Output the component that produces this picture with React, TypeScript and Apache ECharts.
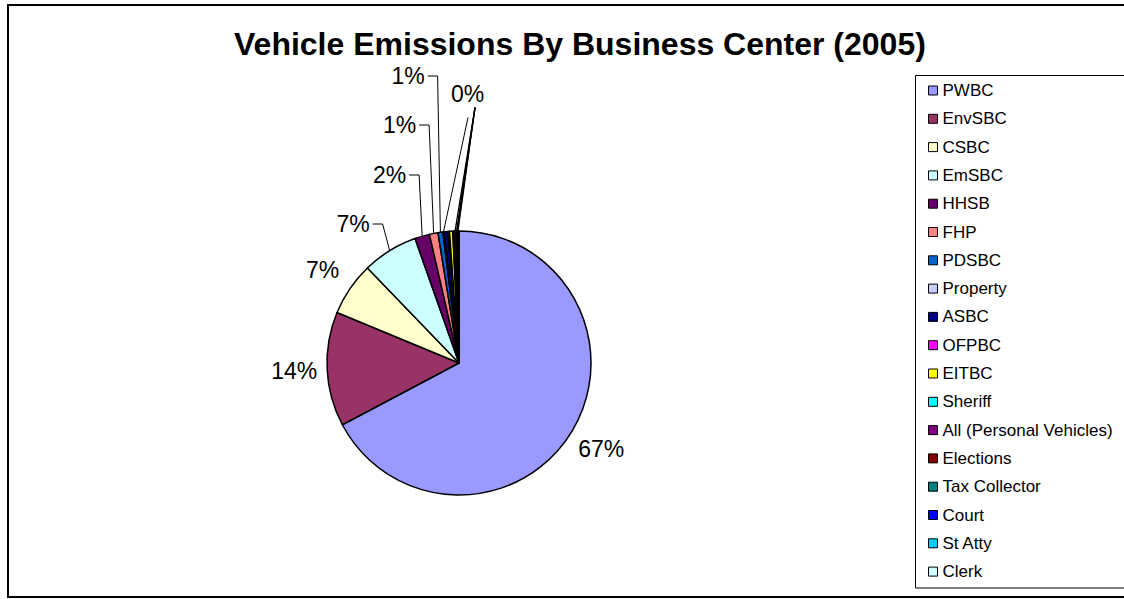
import React, { useEffect, useRef } from "react";
import * as echarts from "echarts";

const TITLE = "Vehicle Emissions By Business Center (2005)";
const CATEGORIES = [
  "PWBC", "EnvSBC", "CSBC", "EmSBC", "HHSB", "FHP", "PDSBC", "Property", "ASBC",
  "OFPBC", "EITBC", "Sheriff", "All (Personal Vehicles)", "Elections", "Tax Collector",
  "Court", "St Atty", "Clerk",
];
const SHARES = [
  67.25, 14.0, 6.55, 6.8, 1.8, 1.05, 0.6, 0.15, 0.45,
  0.2, 0.4, 0.15, 0.25, 0.1, 0.1,
  0.05, 0.05, 0.05,
];
const COLORS = [
  "#9999FF", "#993366", "#FFFFCC", "#CCFFFF", "#660066", "#FF8080", "#0066CC", "#CCCCFF", "#000080",
  "#FF00FF", "#FFFF00", "#00FFFF", "#800080", "#800000", "#008080",
  "#0000FF", "#00CCFF", "#CCFFFF",
];

// layout constants (not data)
const FONT = '"Liberation Sans", Arial, sans-serif';
const W = 1124;
const H = 599;
const CX = 459;
const CY = 363;
const R = 132;
const RADIAL_LABEL_R: Record<number, number> = { 0: 166, 1: 165, 2: 165 };
const LABEL_ANCHORS: Record<number, [number, number]> = {
  3: [353, 224],
  4: [389.5, 175],
  5: [399.5, 125],
  6: [408, 76],
};
const ZERO_ANCHOR: [number, number] = [467.5, 94];
const ELBOW_IDX = [3, 4, 5, 6];
const ZERO_THIN_IDX = [7];
const ZERO_THICK_IDX = [12, 13, 14, 15];
const ZERO_TEXT_IDX = 12;

function midAngle(i: number): number {
  const total = SHARES.reduce((a, b) => a + b, 0);
  let cum = 0;
  for (let k = 0; k < i; k++) cum += SHARES[k];
  return ((cum + SHARES[i] / 2) / total) * Math.PI * 2;
}
function edgePoint(i: number): [number, number] {
  const t = midAngle(i);
  return [CX + R * Math.sin(t), CY - R * Math.cos(t)];
}

export default function App() {
  const ref = useRef<HTMLDivElement>(null);
  useEffect(() => {
    if (!ref.current) return;
    document.body.style.margin = "0";
    document.body.style.overflow = "hidden";
    document.documentElement.style.overflow = "hidden";
    const chart = echarts.init(ref.current, undefined, { renderer: "svg", width: W, height: H });
    const zeroIdx = [...ZERO_THIN_IDX, ...ZERO_THICK_IDX];
    const data = CATEGORIES.map((name, i) => {
      const hasLabel = i <= 6 || zeroIdx.includes(i);
      const hasLine = ELBOW_IDX.includes(i) || zeroIdx.includes(i);
      return {
        name,
        value: SHARES[i],
        itemStyle: { color: COLORS[i] },
        label: { show: hasLabel },
        labelLine: {
          show: hasLine,
          lineStyle: { color: "#000", width: ZERO_THICK_IDX.includes(i) ? 1.3 : 1 },
        },
      };
    });
    chart.setOption({
      animation: false,
      backgroundColor: "#fff",
      title: {
        text: TITLE,
        left: 234,
        top: 28,
        padding: 0,
        textStyle: { fontSize: 32, fontWeight: "bold", fontFamily: FONT, color: "#000" },
      },
      graphic: [
        {
          type: "polyline",
          shape: { points: [[W, 5], [8, 5], [8, 597], [W, 597]] },
          style: { fill: "none", stroke: "#000", lineWidth: 2 },
          silent: true,
          z: 100,
        },
        {
          type: "polyline",
          shape: { points: [[W, 75.5], [915.5, 75.5], [915.5, 588], [W, 588]] },
          style: { fill: "none", stroke: "#000", lineWidth: 1 },
          silent: true,
          z: 100,
        },
      ],
      legend: {
        orient: "vertical",
        left: 928,
        top: 82,
        padding: 0,
        itemGap: 11.3,
        itemWidth: 9,
        itemHeight: 9,
        icon: "rect",
        selectedMode: false,
        itemStyle: { borderColor: "#000", borderWidth: 1 },
        textStyle: { fontSize: 17, lineHeight: 17, fontFamily: FONT, color: "#000" },
        data: CATEGORIES,
      },
      series: [
        {
          type: "pie",
          center: [CX, CY],
          radius: R,
          startAngle: 90,
          clockwise: true,
          avoidLabelOverlap: false,
          itemStyle: { borderColor: "#000", borderWidth: 1.5 },
          emphasis: { disabled: true },
          label: {
            show: true,
            position: "outside",
            fontSize: 23,
            fontFamily: FONT,
            color: "#000",
            formatter: (p: any) => {
              const i = p.dataIndex;
              if (zeroIdx.includes(i) && i !== ZERO_TEXT_IDX) return "";
              return Math.round(p.percent) + "%";
            },
          },
          labelLine: { show: false, length: 10, length2: 10 },
          labelLayout: (p: any) => {
            const i = p.dataIndex;
            const w = p.labelRect ? p.labelRect.width : 0;
            const edge = edgePoint(i);
            if (RADIAL_LABEL_R[i] !== undefined) {
              const t = midAngle(i);
              const r = RADIAL_LABEL_R[i];
              return {
                x: CX + r * Math.sin(t),
                y: CY - r * Math.cos(t),
                align: "center",
                verticalAlign: "middle",
              };
            }
            if (LABEL_ANCHORS[i]) {
              const [ax, ay] = LABEL_ANCHORS[i];
              const right = ax + w / 2;
              return {
                x: ax,
                y: ay,
                align: "center",
                verticalAlign: "middle",
                labelLinePoints: [edge, [right + 13, ay], [right + 3, ay]],
              };
            }
            if (zeroIdx.includes(i)) {
              const [zx, zy] = ZERO_ANCHOR;
              const end: [number, number] = ZERO_THIN_IDX.includes(i)
                ? [zx + 0.5, zy + 23.5]
                : [zx + 7.5, zy + 13.5];
              const mid: [number, number] = [(edge[0] + end[0]) / 2, (edge[1] + end[1]) / 2];
              return {
                x: zx,
                y: zy,
                align: "center",
                verticalAlign: "middle",
                labelLinePoints: [edge, mid, end],
              };
            }
            return {};
          },
          data,
        },
      ],
    });
    return () => chart.dispose();
  }, []);
  return (
    <div
      ref={ref}
      style={{ position: "absolute", left: 0, top: 0, width: W, height: H, overflow: "hidden" }}
    />
  );
}
